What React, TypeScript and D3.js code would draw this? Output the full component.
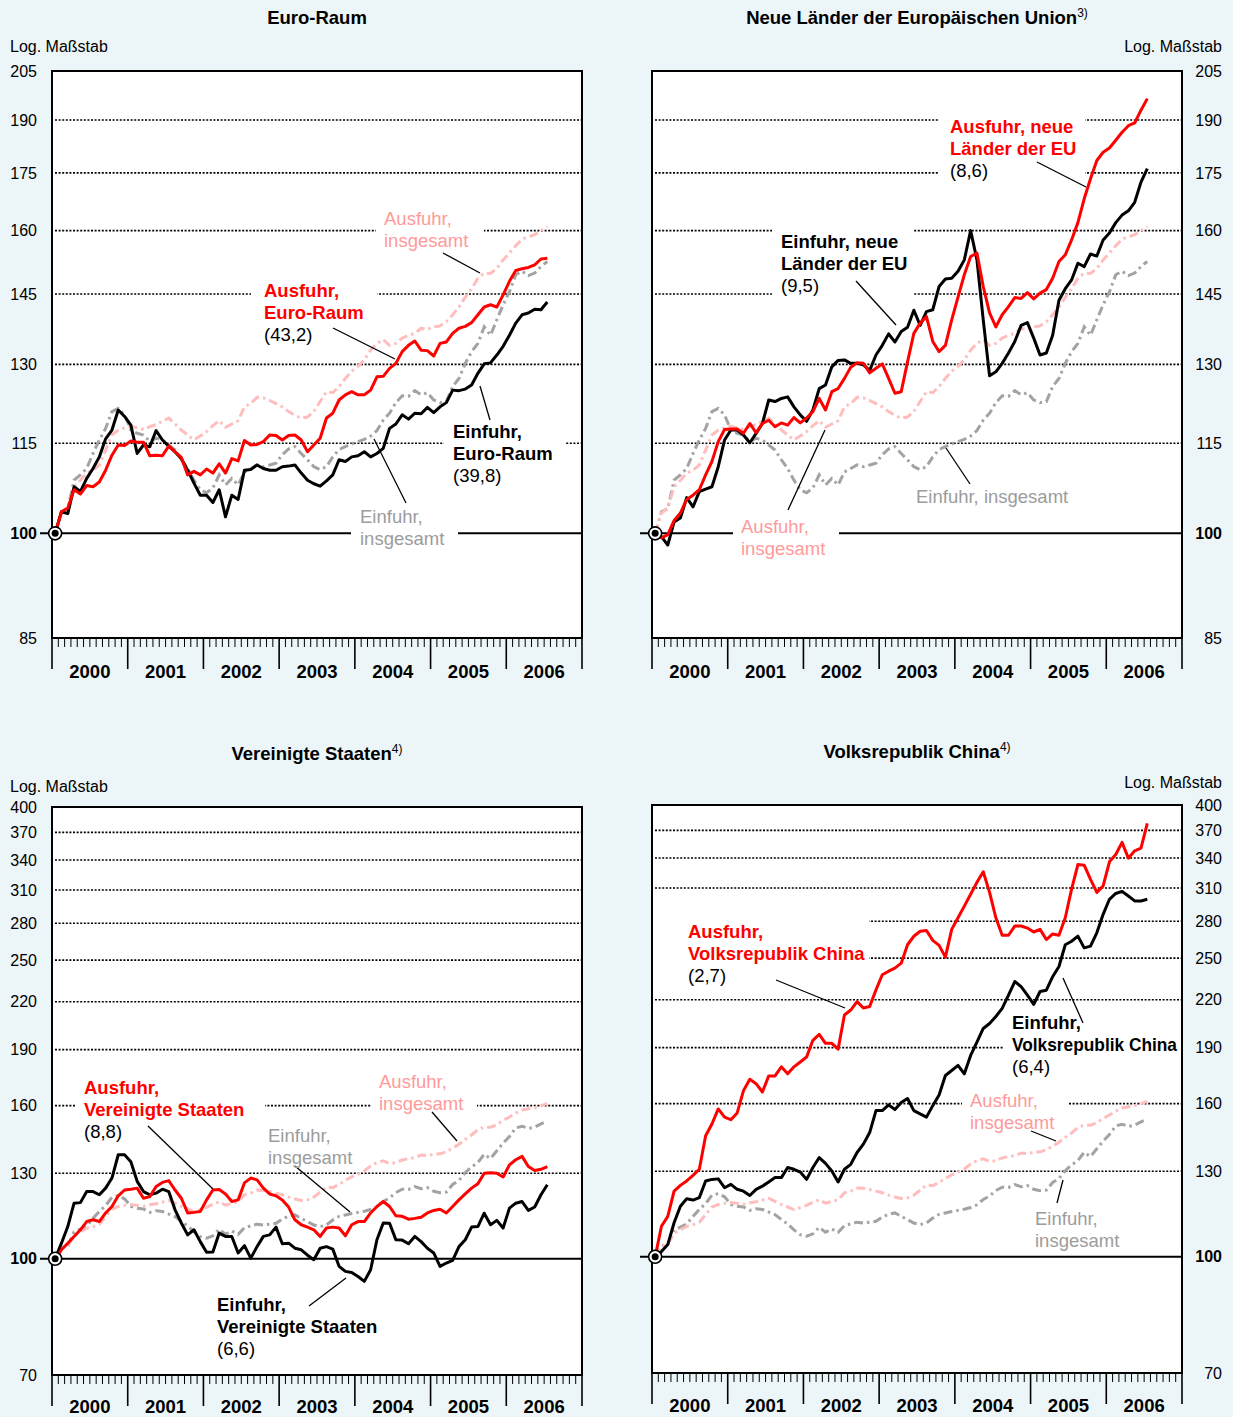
import * as d3 from "d3";

// Monthly index values, Jan 2000 - Jul 2006 (2000 = 100), log scale
const yearLabels = ["2000", "2001", "2002", "2003", "2004", "2005", "2006"];

const ausfuhrInsgesamt = [
  100, 103.2, 104.0, 107.5, 108.6, 109.8, 110.3, 111.2, 113.8, 116.5,
  117.4, 117.8, 118.1, 117.8, 117.5, 118.0, 118.4, 119.0, 119.6, 118.5,
  117.4, 116.5, 115.6, 116.3, 117.1, 118.2, 119.1, 117.9, 118.5, 119.1,
  121.7, 122.3, 123.5, 123.4, 122.9, 122.3, 121.7, 120.8, 120.1, 119.6,
  119.8, 120.8, 122.7, 124.6, 124.4, 125.6, 127.2, 128.6, 129.6, 130.9,
  132.9, 134.3, 135.1, 133.9, 134.3, 135.4, 136.0, 136.4, 137.5, 137.2,
  137.8, 138.0, 138.9, 140.4, 142.1, 144.3, 146.2, 148.6, 149.8, 149.7,
  150.9, 152.9, 154.5, 156.3, 157.9, 158.5, 159.0, 160.0, 161.0,
];

const einfuhrInsgesamt = [
  100, 103.4, 103.9, 108.6, 109.5, 110.6, 113.2, 115.6, 117.7, 120.8,
  121.4, 120.2, 117.4, 116.8, 116.5, 115.3, 115.9, 115.6, 114.7, 113.8,
  112.1, 110.6, 108.6, 107.0, 106.5, 107.3, 109.5, 107.8, 108.9, 107.8,
  110.0, 110.6, 111.2, 110.9, 111.2, 111.5, 113.0, 114.0, 114.4, 113.2,
  112.1, 110.9, 110.4, 110.9, 112.6, 113.9, 114.4, 114.9, 115.3, 115.7,
  116.3, 117.3, 119.2, 120.5, 122.5, 123.8, 123.7, 124.8, 124.0, 124.4,
  123.0, 122.5, 122.7, 125.6, 127.2, 130.2, 132.6, 134.3, 137.8, 136.0,
  139.3, 142.6, 145.5, 149.4, 150.2, 149.2, 149.8, 151.3, 152.5,
];

const ausfuhrEuroRaum = [
  100, 103.4, 104.0, 107.0, 106.3, 107.7, 107.5, 108.3, 110.3, 112.9,
  114.7, 114.6, 115.4, 115.2, 115.2, 112.8, 112.9, 112.8, 114.5, 113.5,
  112.5, 109.5, 110.1, 109.5, 110.5, 109.8, 111.4, 109.8, 112.3, 111.9,
  115.5, 114.7, 114.8, 115.3, 116.5, 116.4, 115.6, 116.4, 116.5, 115.6,
  113.5, 114.7, 115.9, 119.6, 120.5, 123.0, 124.0, 124.6, 124.0, 124.0,
  124.9, 127.5, 127.6, 129.2, 130.2, 132.6, 133.9, 134.8, 132.9, 132.8,
  131.7, 134.3, 134.6, 136.4, 137.5, 137.9, 138.7, 140.4, 142.1, 142.6,
  142.1, 144.8, 147.9, 150.4, 150.8, 151.1, 151.7, 153.1, 153.3,
];

const einfuhrEuroRaum = [
  100, 103.4, 103.1, 107.5, 106.7, 108.9, 110.6, 112.6, 115.8, 117.4,
  121.1, 119.9, 118.3, 113.2, 114.7, 114.4, 117.3, 115.6, 114.5, 113.5,
  112.3, 110.3, 108.1, 106.1, 106.1, 104.9, 107.0, 102.6, 106.1, 105.4,
  110.3, 110.4, 111.2, 110.6, 110.3, 110.3, 110.9, 111.0, 111.2, 109.8,
  108.6, 108.0, 107.6, 108.5, 109.5, 112.1, 111.8, 112.6, 112.8, 113.5,
  112.6, 113.2, 114.1, 117.7, 118.5, 120.2, 119.4, 120.5, 120.4, 121.6,
  120.6, 121.7, 122.5, 124.9, 124.8, 125.1, 125.9, 128.2, 130.1, 130.3,
  131.9, 133.7, 136.0, 138.6, 140.4, 140.8, 141.6, 141.5, 143.2,
];

const ausfuhrNeueLaender = [
  100, 99.3, 99.8, 102.0, 103.2, 105.4, 106.1, 107.0, 109.5, 111.8,
  115.3, 117.5, 117.6, 117.6, 116.8, 118.6, 116.9, 118.6, 119.2, 118.0,
  118.7, 118.3, 119.7, 118.7, 119.6, 120.8, 123.3, 121.1, 124.6, 125.2,
  127.2, 129.4, 130.3, 130.2, 128.3, 129.2, 130.1, 127.2, 124.3, 124.6,
  130.5, 136.4, 138.6, 140.0, 134.7, 132.6, 133.9, 139.3, 144.3, 149.4,
  153.7, 154.5, 146.7, 140.8, 137.8, 140.4, 142.2, 144.2, 144.0, 145.3,
  143.9, 145.2, 146.0, 148.6, 152.5, 154.1, 157.7, 162.0, 168.1, 173.4,
  178.4, 180.7, 181.9, 184.1, 186.4, 188.3, 189.1, 192.9, 196.4,
];

const einfuhrNeueLaender = [
  100, 99.5, 98.2, 101.8, 102.4, 105.7, 104.2, 106.7, 107.1, 107.5,
  110.9, 115.6, 117.4, 117.4, 116.5, 115.1, 116.8, 118.6, 123.0, 122.7,
  123.3, 123.6, 121.7, 120.2, 119.0, 121.1, 125.2, 125.9, 129.5, 130.8,
  130.9, 130.2, 130.2, 129.9, 128.8, 131.9, 133.9, 136.3, 134.6, 136.8,
  137.7, 141.4, 138.1, 141.1, 141.5, 146.7, 148.4, 148.6, 150.2, 152.9,
  160.0, 152.9, 139.3, 127.7, 128.5, 130.2, 132.3, 134.7, 138.1, 138.7,
  135.4, 131.9, 132.3, 136.0, 143.6, 146.2, 148.2, 152.1, 151.3, 154.3,
  153.8, 157.7, 159.4, 162.0, 163.9, 165.0, 167.2, 172.5, 176.2,
];

const ausfuhrUSA = [
  100, 102.8, 104.9, 107.1, 109.3, 112.1, 112.7, 112.1, 115.1, 117.4,
  121.3, 123.5, 123.8, 124.2, 120.4, 121.0, 124.8, 126.4, 127.1, 123.5,
  120.4, 115.1, 115.3, 115.6, 119.8, 123.5, 123.7, 122.0, 119.2, 119.8,
  126.2, 128.1, 127.4, 124.2, 122.0, 121.3, 119.8, 117.2, 112.7, 111.0,
  110.2, 109.3, 107.1, 109.9, 110.2, 109.9, 107.3, 111.0, 112.1, 112.1,
  115.1, 117.4, 119.2, 117.4, 114.1, 113.9, 112.9, 113.2, 113.6, 115.1,
  116.0, 116.4, 115.1, 117.4, 119.8, 122.0, 124.2, 125.9, 130.0, 130.2,
  130.0, 128.5, 133.4, 135.5, 136.9, 132.7, 131.1, 131.6, 132.7,
];

const einfuhrUSA = [
  100, 104.9, 110.4, 118.6, 118.8, 122.9, 122.9, 121.7, 124.2, 128.1,
  137.6, 137.6, 134.7, 126.8, 122.9, 121.7, 122.3, 123.8, 122.9, 116.2,
  111.6, 107.6, 109.3, 105.4, 102.0, 102.1, 108.2, 107.1, 107.1, 101.8,
  104.1, 100.2, 103.8, 107.1, 107.6, 110.2, 104.7, 104.9, 103.3, 102.8,
  101.1, 99.7, 103.3, 103.8, 103.0, 97.7, 96.2, 95.9, 94.7, 93.3,
  96.7, 106.0, 111.6, 111.5, 106.0, 105.9, 104.7, 107.1, 105.4, 103.3,
  101.8, 97.7, 98.7, 99.5, 103.8, 106.0, 110.2, 110.4, 115.0, 111.0,
  112.5, 109.9, 116.8, 118.6, 119.2, 116.0, 117.2, 121.7, 125.5,
];

const ausfuhrChina = [
  100, 109.8, 113.2, 122.3, 124.5, 126.2, 128.4, 130.8, 145.0, 150.3,
  157.4, 153.5, 152.3, 155.5, 166.5, 172.4, 170.1, 165.8, 174.2, 174.2,
  179.1, 175.3, 179.1, 181.8, 184.6, 194.3, 197.9, 192.5, 192.5, 189.1,
  210.0, 213.2, 218.8, 214.5, 215.5, 226.8, 237.6, 240.2, 242.5, 246.2,
  260.5, 267.4, 271.5, 272.2, 264.0, 260.0, 250.8, 273.1, 283.0, 293.3,
  304.2, 315.5, 325.9, 305.9, 283.0, 268.2, 268.2, 275.9, 275.9, 274.2,
  270.9, 273.1, 264.7, 269.3, 268.2, 283.0, 309.0, 333.2, 332.6, 318.4,
  305.9, 312.1, 336.0, 343.6, 356.6, 339.8, 347.5, 350.4, 378.2,
];

const einfuhrChina = [
  100, 101.6, 103.8, 111.0, 116.8, 119.5, 119.0, 119.9, 126.2, 126.8,
  127.0, 123.6, 124.9, 123.0, 122.3, 120.7, 123.0, 124.2, 125.8, 127.5,
  127.5, 131.5, 130.8, 129.7, 126.8, 131.5, 135.6, 133.2, 130.1, 125.8,
  130.8, 132.8, 137.7, 141.3, 146.4, 156.6, 156.6, 159.4, 157.1, 160.5,
  162.5, 156.6, 155.0, 153.5, 159.0, 164.3, 174.4, 177.1, 179.9, 175.3,
  185.5, 193.2, 201.5, 204.6, 209.0, 214.3, 223.2, 232.7, 229.1, 223.2,
  217.0, 225.7, 226.6, 236.2, 243.7, 260.5, 263.3, 267.5, 258.0, 259.4,
  270.2, 286.0, 299.5, 304.9, 306.9, 302.5, 298.0, 298.0, 299.5,
];

const ticksEU = [85, 100, 115, 130, 145, 160, 175, 190, 205];
const ticksWorld = [70, 100, 130, 160, 190, 220, 250, 280, 310, 340, 370, 400];

const FONT = "'Liberation Sans', Arial, Helvetica, sans-serif";
const BG = "#ECF5F8";
const RED = "#FF0000";
const PINK_LINE = "#FFBDBD";
const PINK_TEXT = "#FF9A9A";
const GREY_LINE = "#A3A3A3";
const GREY_TEXT = "#9C9C9C";
const DASH_DOT = "9,4,2.5,4";

const textStyle: Record<string, { fill: string; weight: number }> = {
  red: { fill: RED, weight: 700 },
  black: { fill: "#000", weight: 700 },
  note: { fill: "#000", weight: 400 },
  pink: { fill: PINK_TEXT, weight: 400 },
  grey: { fill: GREY_TEXT, weight: 400 },
};

// [text, style, optional squeezed width]
type NoteLine = [string, string, number?];

type Note = {
  x: number;
  y: number;
  lines: NoteLine[];
  box?: [number, number, number, number];
  leader: [number, number, number, number];
};

type PanelCfg = {
  title: string;
  sup?: string;
  left: number;
  top: number;
  bottom: number;
  domain: [number, number];
  ticks: number[];
  side: "left" | "right";
  logY: number;
  yearDy: number;
  ausfuhr: number[];
  einfuhr: number[];
  notes: Note[];
};

const panels: PanelCfg[] = [
  {
    title: "Euro-Raum",
    left: 52, top: 71, bottom: 638, domain: [85, 205], ticks: ticksEU, side: "left", logY: 52, yearDy: 39.5,
    ausfuhr: ausfuhrEuroRaum, einfuhr: einfuhrEuroRaum,
    notes: [
      { x: 384, y: 224.5, lines: [["Ausfuhr,", "pink"], ["insgesamt", "pink"]], box: [376, 484, 205, 252], leader: [443, 253, 480, 273] },
      { x: 264, y: 296.5, lines: [["Ausfuhr,", "red"], ["Euro-Raum", "red"], ["(43,2)", "note"]], box: [251, 377, 278, 348], leader: [333, 328, 395, 359] },
      { x: 453, y: 437.5, lines: [["Einfuhr,", "black"], ["Euro-Raum", "black"], ["(39,8)", "note"]], box: [444, 565, 420, 488], leader: [480, 386, 490, 420] },
      { x: 360, y: 522.5, lines: [["Einfuhr,", "grey"], ["insgesamt", "grey"]], box: [351, 458, 503, 550], leader: [374, 439, 406, 503] },
    ],
  },
  {
    title: "Neue Länder der Europäischen Union", sup: "3)",
    left: 652, top: 71, bottom: 638, domain: [85, 205], ticks: ticksEU, side: "right", logY: 52, yearDy: 39.5,
    ausfuhr: ausfuhrNeueLaender, einfuhr: einfuhrNeueLaender,
    notes: [
      { x: 950, y: 132.5, lines: [["Ausfuhr, neue", "red"], ["Länder der EU", "red"], ["(8,6)", "note"]], box: [938, 1085, 112, 182], leader: [1037, 162, 1086, 187] },
      { x: 781, y: 247.5, lines: [["Einfuhr, neue", "black"], ["Länder der EU", "black"], ["(9,5)", "note"]], box: [772, 914, 226, 298], leader: [856, 281, 896, 325] },
      { x: 916, y: 502.5, lines: [["Einfuhr, insgesamt", "grey"]], leader: [946, 448, 970, 484] },
      { x: 741, y: 532.5, lines: [["Ausfuhr,", "pink"], ["insgesamt", "pink"]], box: [733, 839, 512, 560], leader: [788, 510, 825, 430] },
    ],
  },
  {
    title: "Vereinigte Staaten", sup: "4)",
    left: 52, top: 807, bottom: 1375, domain: [70, 400], ticks: ticksWorld, side: "left", logY: 792, yearDy: 37.5,
    ausfuhr: ausfuhrUSA, einfuhr: einfuhrUSA,
    notes: [
      { x: 84, y: 1093.5, lines: [["Ausfuhr,", "red"], ["Vereinigte Staaten", "red"], ["(8,8)", "note"]], box: [75, 265, 1072, 1144], leader: [148, 1126, 213, 1189] },
      { x: 379, y: 1087.5, lines: [["Ausfuhr,", "pink"], ["insgesamt", "pink"]], box: [371, 477, 1068, 1115], leader: [432, 1112, 457, 1141] },
      { x: 268, y: 1141.5, lines: [["Einfuhr,", "grey"], ["insgesamt", "grey"]], leader: [295, 1166, 350, 1212] },
      { x: 217, y: 1310.5, lines: [["Einfuhr,", "black"], ["Vereinigte Staaten", "black"], ["(6,6)", "note"]], leader: [346, 1278, 309, 1306] },
    ],
  },
  {
    title: "Volksrepublik China", sup: "4)",
    left: 652, top: 805, bottom: 1373, domain: [70, 400], ticks: ticksWorld, side: "right", logY: 788, yearDy: 38.5,
    ausfuhr: ausfuhrChina, einfuhr: einfuhrChina,
    notes: [
      { x: 688, y: 937.5, lines: [["Ausfuhr,", "red"], ["Volksrepublik China", "red"], ["(2,7)", "note"]], box: [652, 869, 915, 988], leader: [776, 980, 845, 1008] },
      { x: 1012, y: 1028.5, lines: [["Einfuhr,", "black"], ["Volksrepublik China", "black", 165], ["(6,4)", "note"]], box: [1003, 1183, 1008, 1080], leader: [1063, 978, 1083, 1023] },
      { x: 970, y: 1106.5, lines: [["Ausfuhr,", "pink"], ["insgesamt", "pink"]], box: [962, 1068, 1085, 1133], leader: [1031, 1131, 1056, 1141] },
      { x: 1035, y: 1224.5, lines: [["Einfuhr,", "grey"], ["insgesamt", "grey"]], leader: [1063, 1180, 1057, 1203] },
    ],
  },
];

const PLOT_W = 530;

function Panel({ cfg }: { cfg: PanelCfg }) {
  const right = cfg.left + PLOT_W;
  const x = d3.scaleLinear().domain([0, 84]).range([cfg.left, right]);
  const y = d3.scaleLog().domain(cfg.domain).range([cfg.bottom, cfg.top]);
  const line = d3
    .line<number>()
    .x((_, i) => x(i + 0.5))
    .y((v) => y(v));

  const labelX = cfg.side === "left" ? cfg.left - 15 : right + 40;
  const grid = cfg.ticks.filter((t) => t !== 100 && t !== cfg.domain[0] && t !== cfg.domain[1]);
  const months = d3.range(1, 84).filter((m) => m % 12 !== 0);
  const years = d3.range(0, 85, 12);
  const cx = (cfg.left + right) / 2;
  const titleY = cfg.top - 47.5;

  return (
    <g fontFamily={FONT}>
      <text x={cx} y={titleY} textAnchor="middle" fontSize={18.5} fontWeight={700}>
        {cfg.title}
        {cfg.sup && (
          <tspan fontSize={12} fontWeight={400} dy={-7}>
            {cfg.sup}
          </tspan>
        )}
      </text>
      <text
        x={cfg.side === "left" ? 10 : 1222}
        y={cfg.logY}
        textAnchor={cfg.side === "left" ? "start" : "end"}
        fontSize={16}
      >
        Log. Maßstab
      </text>

      <rect x={cfg.left} y={cfg.top} width={PLOT_W} height={cfg.bottom - cfg.top} fill="#fff" />

      {grid.map((t) => (
        <line
          key={t}
          x1={cfg.left + 3}
          x2={right}
          y1={y(t)}
          y2={y(t)}
          stroke="#000"
          strokeWidth={1.6}
          strokeDasharray="2,1.6"
        />
      ))}
      <line x1={cfg.left - 12} x2={right} y1={y(100)} y2={y(100)} stroke="#000" strokeWidth={2} />

      {cfg.notes.map((n, k) =>
        n.box ? (
          <rect key={k} x={n.box[0]} y={n.box[2]} width={n.box[1] - n.box[0]} height={n.box[3] - n.box[2]} fill="#fff" />
        ) : null
      )}

      <path d={line(einfuhrInsgesamt) || ""} fill="none" stroke={GREY_LINE} strokeWidth={3} strokeDasharray={DASH_DOT} />
      <path d={line(ausfuhrInsgesamt) || ""} fill="none" stroke={PINK_LINE} strokeWidth={3} strokeDasharray={DASH_DOT} />
      <path d={line(cfg.einfuhr) || ""} fill="none" stroke="#000" strokeWidth={3} strokeLinejoin="round" />
      <path d={line(cfg.ausfuhr) || ""} fill="none" stroke={RED} strokeWidth={3} strokeLinejoin="round" />

      {cfg.notes.map((n, k) => (
        <g key={k}>
          <line x1={n.leader[0]} y1={n.leader[1]} x2={n.leader[2]} y2={n.leader[3]} stroke="#000" strokeWidth={1.3} />
          {n.lines.map(([t, kind, w], j) => (
            <text
              key={j}
              x={n.x}
              y={n.y + j * 22}
              fontSize={18.5}
              fill={textStyle[kind].fill}
              fontWeight={textStyle[kind].weight}
              textLength={w}
              lengthAdjust={w ? "spacingAndGlyphs" : undefined}
            >
              {t}
            </text>
          ))}
        </g>
      ))}

      <rect
        x={cfg.left}
        y={cfg.top}
        width={PLOT_W}
        height={cfg.bottom - cfg.top}
        fill="none"
        stroke="#000"
        strokeWidth={2}
      />

      {cfg.ticks.map((t) => (
        <text
          key={t}
          x={labelX}
          y={y(t)}
          dy="0.35em"
          textAnchor="end"
          fontSize={16}
          fontWeight={t === 100 ? 700 : 400}
        >
          {t}
        </text>
      ))}

      {months.map((m) => (
        <line key={m} x1={x(m)} x2={x(m)} y1={cfg.bottom} y2={cfg.bottom + 9} stroke="#000" strokeWidth={1} />
      ))}
      {years.map((m) => (
        <line key={"y" + m} x1={x(m)} x2={x(m)} y1={cfg.bottom} y2={cfg.bottom + 31} stroke="#000" strokeWidth={1.6} />
      ))}
      {yearLabels.map((lab, k) => (
        <text key={lab} x={x(k * 12 + 6)} y={cfg.bottom + cfg.yearDy} textAnchor="middle" fontSize={18.5} fontWeight={700}>
          {lab}
        </text>
      ))}

      <circle cx={x(0.5)} cy={y(100)} r={6.5} fill="#fff" stroke="#000" strokeWidth={1.6} />
      <circle cx={x(0.5)} cy={y(100)} r={3.5} fill="#000" />
    </g>
  );
}

export default function App() {
  return (
    <div>
      <style>{"body{margin:0}"}</style>
      <svg width={1233} height={1417} style={{ display: "block" }}>
        <rect width={1233} height={1417} fill={BG} />
        {panels.map((p) => (
          <Panel key={p.title} cfg={p} />
        ))}
      </svg>
    </div>
  );
}
